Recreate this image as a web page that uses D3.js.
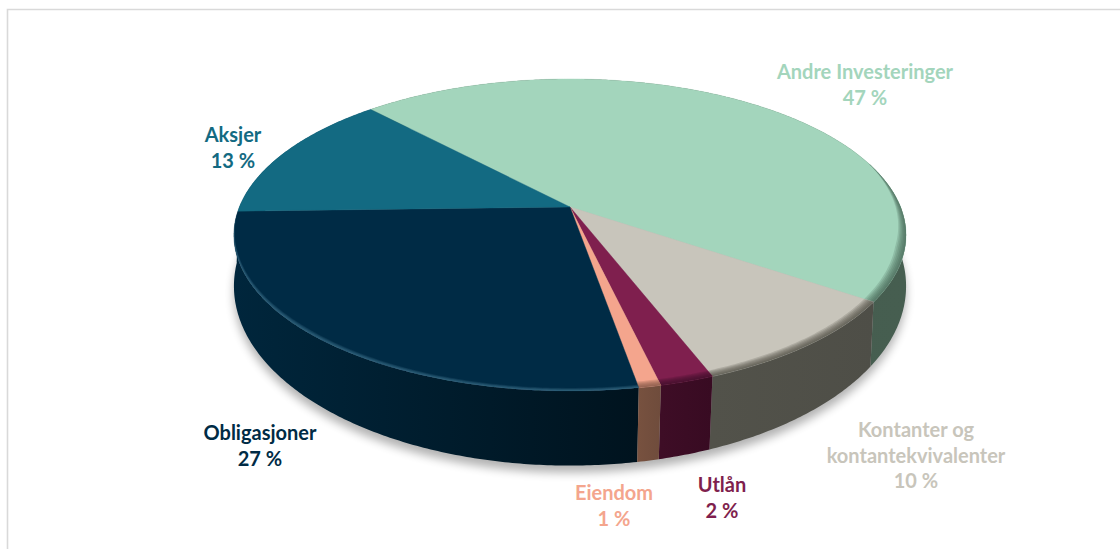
<!DOCTYPE html>
<html>
<head>
<meta charset="utf-8">
<script src="https://cdn.jsdelivr.net/npm/d3@7"></script>
<style>
  html, body { margin: 0; padding: 0; background: #fff; }
  svg { display: block; }
  text { font-family: Lato, "Open Sans", sans-serif; font-weight: 700; font-size: 20px; text-anchor: middle; }
</style>
</head>
<body>
<svg id="chart" width="1120" height="549"></svg>
<script>
// clockwise from the Aksjer/Andre edge
var categories = ["Andre Investeringer", "Kontanter og kontantekvivalenter", "Utlån", "Eiendom", "Obligasjoner", "Aksjer"];
var shares = [46.5, 9.6, 2.2, 0.9, 27.3, 13.49];

var topColors = ["#a3d5bc", "#c8c5bb", "#7f1f4e", "#f4a58d", "#002b45", "#136a82"];
var wallLeft = ["#44594c", "#52524a", "#3e0d26", "#77513f", "#00263c", "#0c4558"];
var wallRight = ["#465e50", "#4e4e47", "#380b22", "#6f4c3c", "#00131e", "#0c4558"];
var rimColors = ["#3f5d4e", "#4a4a42", "#3e0d26", "#77513f", "#5f93ad", "#1d7f9c"];

// one array of text lines per slice, plus where its block sits
var labelLines = [["Andre Investeringer"], ["Kontanter og", "kontantekvivalenter"], ["Utlån"], ["Eiendom"], ["Obligasjoner"], ["Aksjer"]];
var labelX = [865, 916, 722, 614, 260, 233];
var labelY = [79, 437, 492, 500, 440, 142];
var lineGap = 25.7;

var svg = d3.select("#chart");
var defs = svg.append("defs");

// camera like projection of the unit circle, top face and bottom rim
var cx = 570;
var topFace = { y0: 207, a: 330.6, b: 151, k: 0.1795 };
var lowFace = { y0: 258, a: 331.9, b: 175, k: 0.157 };

function project(face, angle, r) {
  if (r === undefined) r = 1;
  var X = r * Math.sin(angle), Y = -r * Math.cos(angle);
  var w = 1 - face.k * Y;
  return [cx + face.a * X / w, face.y0 + face.b * Y / w];
}

function sampleAngles(a0, a1) {
  var n = Math.max(2, Math.ceil(Math.abs(a1 - a0) / 0.01));
  return d3.range(n + 1).map(function(i) { return a0 + (a1 - a0) * i / n; });
}

var line = d3.line();
var rad = Math.PI / 180;
var pie = d3.pie().sort(null)
  .startAngle(317 * rad)
  .endAngle((317 + 360) * rad);
var slices = pie(shares);

defs.append("filter").attr("id", "soft")
  .attr("filterUnits", "userSpaceOnUse")
  .attr("x", 0).attr("y", 0).attr("width", 1120).attr("height", 549)
  .append("feGaussianBlur").attr("stdDeviation", 5);

// frame
svg.append("path")
  .attr("d", "M7.5,549V9.5H1120")
  .attr("fill", "none")
  .attr("stroke", "#d9d9d9")
  .attr("stroke-width", 1.6);

// shadow under the disc
var lowRim = sampleAngles(0, 2 * Math.PI).map(function(a) { return project(lowFace, a); });
svg.append("path")
  .attr("d", line(lowRim) + "Z")
  .attr("transform", "translate(0,7)")
  .attr("fill", "#000")
  .attr("opacity", 0.3)
  .attr("filter", "url(#soft)");

// walls, back ones first
var wallOrder = slices.map(function(d, i) { return i; }).sort(function(p, q) {
  var mid = function(s) { return -Math.cos((s.startAngle + s.endAngle) / 2); };
  return mid(slices[p]) - mid(slices[q]);
});

wallOrder.forEach(function(i) {
  var s = slices[i];
  var angles = sampleAngles(s.startAngle, s.endAngle);
  var upper = angles.map(function(a) { return project(topFace, a); });
  var lower = angles.slice().reverse().map(function(a) { return project(lowFace, a); });
  var xs = upper.map(function(p) { return p[0]; });
  var grad = defs.append("linearGradient").attr("id", "wall" + i)
    .attr("gradientUnits", "userSpaceOnUse")
    .attr("x1", d3.min(xs)).attr("x2", d3.max(xs)).attr("y1", 0).attr("y2", 0);
  grad.append("stop").attr("offset", 0).attr("stop-color", wallLeft[i]);
  grad.append("stop").attr("offset", 1).attr("stop-color", wallRight[i]);
  svg.append("path")
    .attr("d", line(upper.concat(lower)) + "Z")
    .attr("fill", "url(#wall" + i + ")");
});

// how wide the bevel is at this angle, it thins out towards both sides of the disc
var taper = d3.scaleLinear()
  .domain([72, 105, 225, 268])
  .range([0, 1, 1, 0])
  .clamp(true);

// bevel as stacked thin rings, the outer ones get painted most often
function drawBevel(i, from, to) {
  var dark = i < 4;
  var inner = dark ? 0.972 : 0.986;
  var steps = 6;
  d3.range(steps).forEach(function(j) {
    var r = inner + (1 - inner) * j / steps;
    var angles = sampleAngles(from, to);
    var outerPts = angles.map(function(a) { return project(topFace, a); });
    var innerPts = angles.slice().reverse().map(function(a) {
      var t = taper((a / rad) % 360);
      return project(topFace, a, 1 - (1 - r) * t);
    });
    svg.append("path")
      .attr("d", line(outerPts.concat(innerPts)) + "Z")
      .attr("fill", rimColors[i])
      .attr("opacity", dark ? 0.2 : 0.11);
  });
}

// top faces
slices.forEach(function(s, i) {
  var rim = sampleAngles(s.startAngle, s.endAngle).map(function(a) { return project(topFace, a); });
  var d = line(rim.concat([[cx, topFace.y0]])) + "Z";
  svg.append("path").attr("d", d).attr("fill", topColors[i])
    .attr("stroke", topColors[i]).attr("stroke-width", 0.4);

  // only the part of the rim that faces the viewer gets the bevel, both turns for the slice past 360
  [[72, 268], [432, 628]].forEach(function(band) {
    var from = Math.max(s.startAngle, band[0] * rad);
    var to = Math.min(s.endAngle, band[1] * rad);
    if (from < to) drawBevel(i, from, to);
  });
});

// labels
slices.forEach(function(s, i) {
  var lines = labelLines[i].concat([Math.round(shares[i]) + " %"]);
  var t = svg.append("text")
    .attr("fill", topColors[i])
    .attr("data-category", categories[i]);
  lines.forEach(function(txt, j) {
    t.append("tspan")
      .attr("x", labelX[i])
      .attr("y", labelY[i] + j * lineGap)
      .text(txt);
  });
});
</script>
</body>
</html>
